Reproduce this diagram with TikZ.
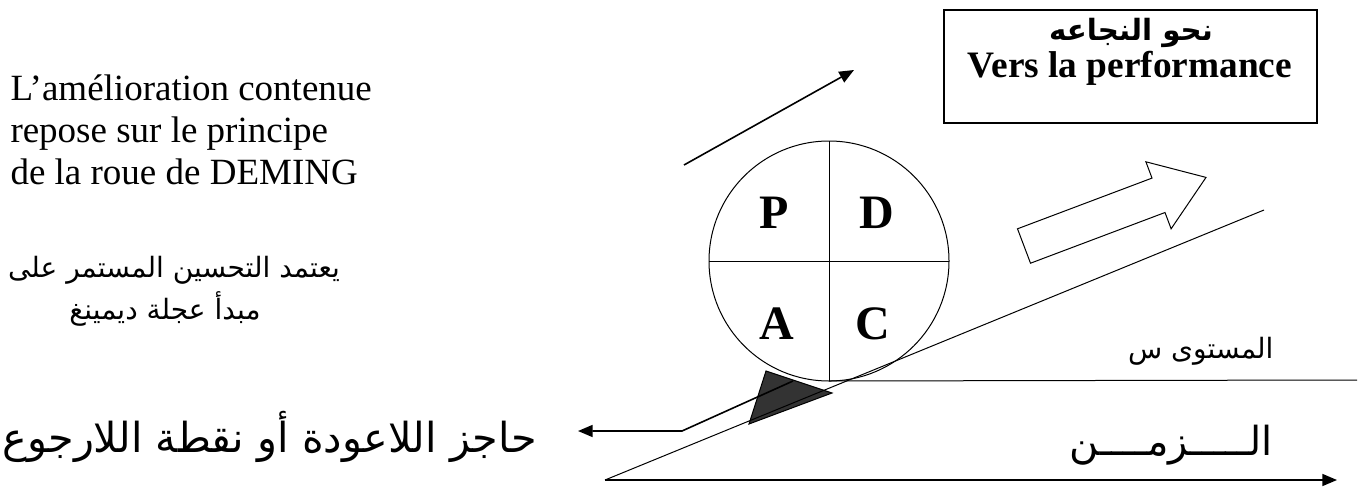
\documentclass[tikz,border=0pt]{standalone}
\usepackage{fontspec}
\setmainfont{Liberation Serif}
\newfontfamily\arabicfont[Script=Arabic]{DejaVu Sans}
\TeXXeTstate=1
\usetikzlibrary{arrows.meta}

\tikzset{every picture/.style={line width=0.75pt}}
\tikzset{
  arr/.style={line width=1.2pt,-{Triangle[length=11pt,width=9pt]}},
  pdca/.style={font=\fontsize{36}{40}\selectfont\bfseries,inner sep=0pt},
  frtext/.style={anchor=base west,inner sep=0pt,font=\fontsize{27.75}{31.5}\selectfont},
  artext/.style={inner sep=0pt,font=\arabicfont}
}

\begin{document}
\begin{tikzpicture}[x=0.75pt,y=0.75pt,yscale=-1,xscale=1]
\useasboundingbox (0,0) rectangle (1360,489);

% Text Node
\node (fr1) [frtext] at (10,100) {L’amélioration contenue};
% Text Node
\node (fr2) [frtext] at (10,142) {repose sur le principe};
% Text Node
\node (fr3) [frtext] at (10,184) {de la roue de DEMING};
% Text Node
\node (ar1) [artext,anchor=base,font=\arabicfont\fontsize{21}{25}\selectfont] at (174,277) {\beginR يعتمد التحسين المستمر على\endR};
% Text Node
\node (ar2) [artext,anchor=base,font=\arabicfont\fontsize{21}{25}\selectfont] at (165,319) {\beginR مبدأ عجلة ديمينغ\endR};
% Text Node
\node (barrier) [artext,anchor=base east,font=\arabicfont\fontsize{31}{35}\selectfont] at (537,452) {\beginR حاجز اللاعودة أو نقطة اللارجوع\endR};

%Shape: Box [id:goal]
\node (goal) [draw,line width=1.3pt,minimum width=279.75pt,minimum height=84.75pt,inner sep=0pt] at (1130.5,66.5) {};
% Text Node
\node (goalar) [artext,anchor=base,font=\arabicfont\fontsize{22}{26}\selectfont\bfseries] at (1131,40) {\beginR نحو النجاعه\endR};
% Text Node
\node (goalfr) [anchor=base,inner sep=0pt,font=\fontsize{28}{32}\selectfont\bfseries] at (1130,77) {Vers la performance};

%Straight Lines [id:up]
\coordinate (up0) at (684,165);
\coordinate (up1) at (854,70);
\draw [arr] (up0) -- (up1);

%Shape: Triangle [id:wedge]
\draw [fill={rgb, 255:red, 51; green, 51; blue, 51 }] (766,371) -- (832,393) -- (749,424) -- cycle;

%Shape: Circle [id:wheel]
\node (wheel) [circle,draw,minimum size=180pt,inner sep=0pt,outer sep=0pt] at (829,261) {};
\draw (wheel.north) -- (wheel.south);
\draw (wheel.west) -- (wheel.east);
\node (p) [pdca] at (774,213) {P};
\node (d) [pdca] at (877,213) {D};
\node (a) [pdca] at (777,324) {A};
\node (c) [pdca] at (873,324) {C};

%Straight Lines [id:level]
\coordinate (lv1) at (1357,380);
\draw (wheel.south) -- (lv1);
% Text Node
\node (levelar) [artext,anchor=base east,font=\arabicfont\fontsize{21}{25}\selectfont] at (1274,358) {\beginR المستوى س\endR};

%Straight Lines [id:slope]
\coordinate (t0) at (605,480);
\coordinate (slopetop) at (1264,210);
\draw (t0) -- (slopetop);

%Straight Lines [id:time]
\coordinate (t1) at (1337,480);
\draw [arr] (t0) -- (t1);
% Text Node
\node (timear) [artext,anchor=base east,font=\arabicfont\fontsize{30}{34}\selectfont] at (1273,455) {\beginR الـــــزمــــن\endR};

%Straight Lines [id:stop]
\coordinate (bar0) at (793,381);
\coordinate (bar1) at (682,431);
\coordinate (bar2) at (578,431);
\draw [arr] (bar0) -- (bar1) -- (bar2);

%Shape: Block Arrow [id:push]
\draw (1017.5,228.8) -- (1152,178.1) -- (1145.9,161.8) -- (1206,177.4) -- (1171.1,228.8) -- (1165,212.5) -- (1030.5,263.2) -- cycle;

\end{tikzpicture}
\end{document}
